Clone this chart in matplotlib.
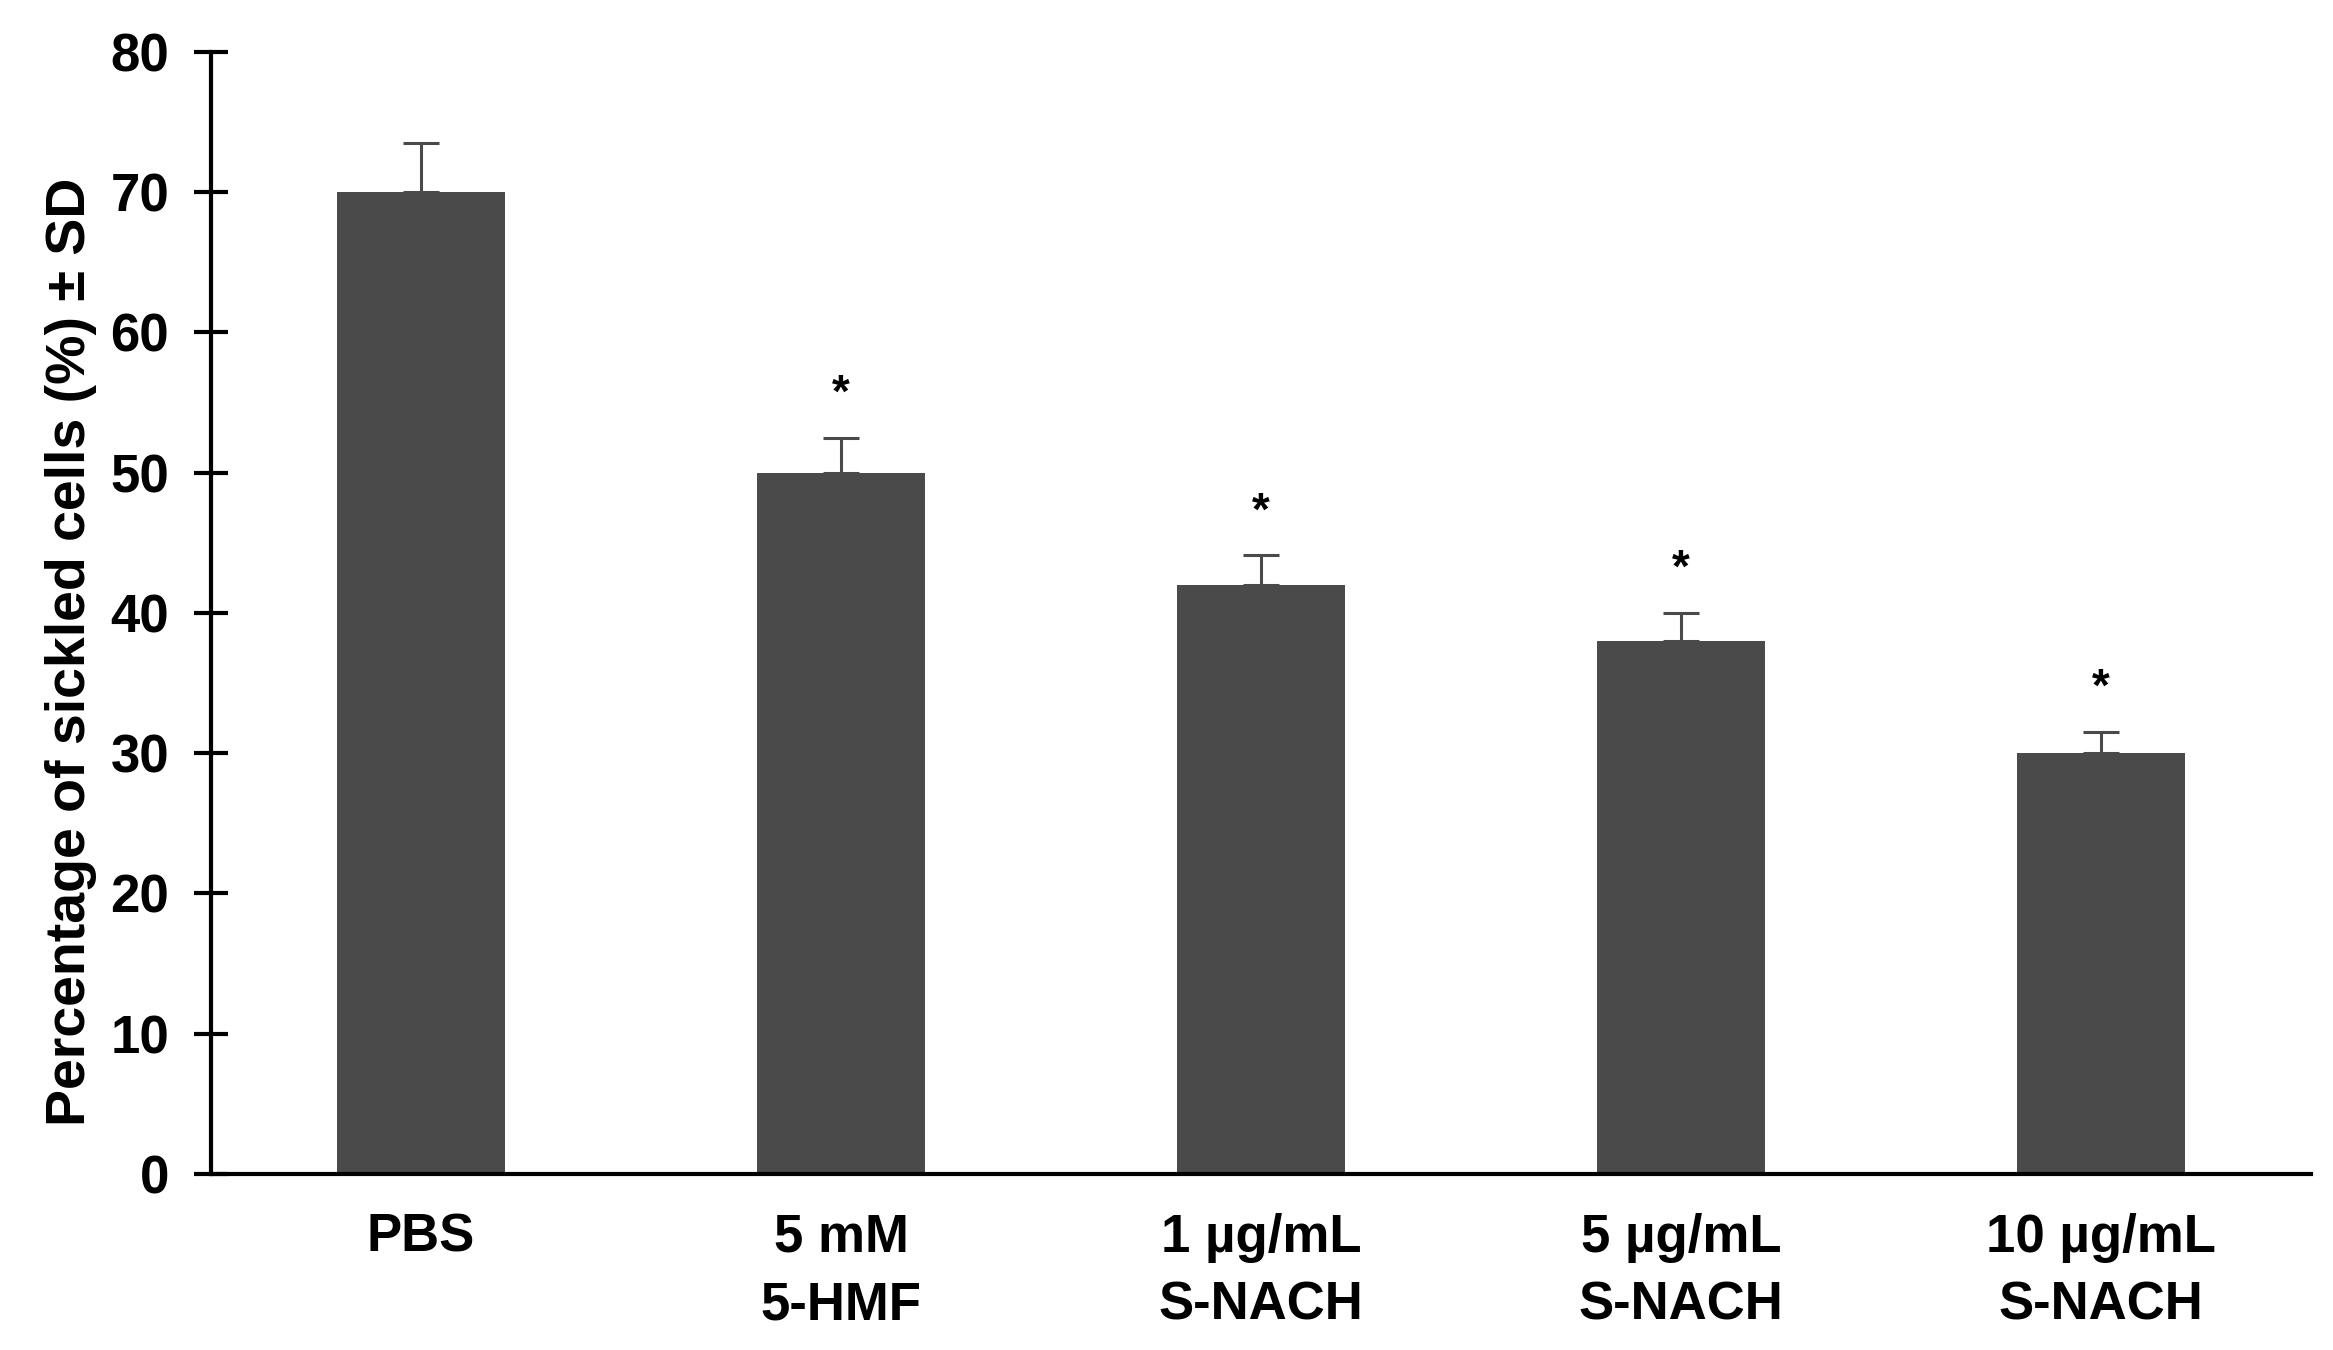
import matplotlib.pyplot as plt
import numpy as np

plt.rcParams['font.family'] = ['Liberation Sans', 'DejaVu Sans']
plt.rcParams['font.weight'] = 'bold'

groups = ["PBS", "5 mM\n5-HMF", "1 µg/mL\nS-NACH", "5 µg/mL\nS-NACH", "10 µg/mL\nS-NACH"]
sickled = [70, 50, 42, 38, 30]
sd = [3.5, 2.5, 2.1, 2.0, 1.5]
signif = ["", "*", "*", "*", "*"]

bar_col = "#4a4a4a"

fig = plt.figure(figsize=(23.33, 13.5), dpi=100)
ax = fig.add_axes([0.0904, 0.1304, 0.9002, 0.8311])

x = np.arange(len(groups))
ax.bar(x, sickled, width=0.4, color=bar_col, zorder=2)
ax.errorbar(x, sickled, yerr=[np.zeros(len(sd)), sd], fmt="none",
            ecolor=bar_col, elinewidth=2.2, capsize=13, capthick=2.2, zorder=3)

for xi, v, e, s in zip(x, sickled, sd, signif):
    if s:
        ax.text(xi, v + e + 1.5, s, ha="center", va="bottom",
                fontsize=33, fontweight="bold")

ax.set_xlim(-0.5, 4.5)
ax.set_ylim(0, 80)
ax.set_yticks(np.arange(0, 81, 10))
ax.set_xticks(x)
ax.set_xticklabels(groups, fontsize=38, fontweight="bold", linespacing=1.45)
ax.tick_params(axis="x", length=0, pad=28)
ax.tick_params(axis="y", direction="inout", length=24, width=3,
               labelsize=38, pad=18)
for t in ax.get_yticklabels():
    t.set_fontweight("bold")

ax.spines["top"].set_visible(False)
ax.spines["right"].set_visible(False)
ax.spines["left"].set_linewidth(3)
ax.spines["bottom"].set_linewidth(3)

ax.set_ylabel("Percentage of sickled cells (%) ± SD", fontsize=40,
              fontweight="bold", labelpad=10)
ax.yaxis.label.set_y(0.465)

fig.savefig("out.png", dpi=100)
